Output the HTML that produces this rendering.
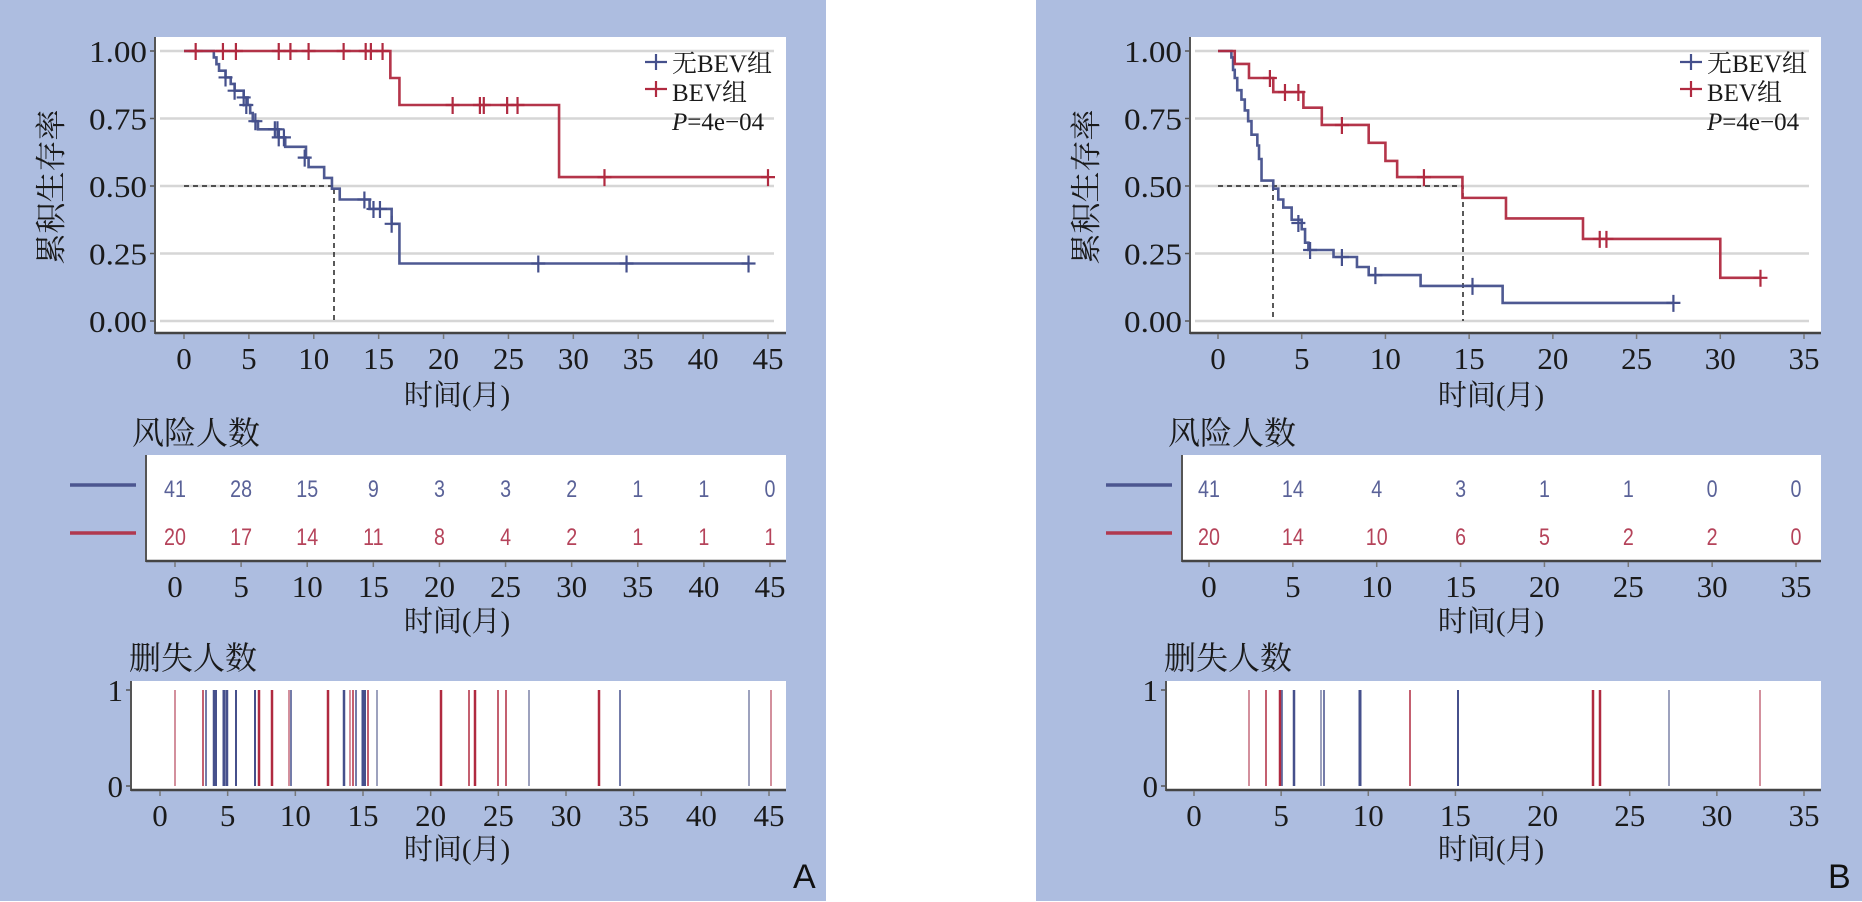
<!DOCTYPE html>
<html><head><meta charset="utf-8"><style>
html,body{margin:0;padding:0;background:#fff;}
svg{display:block;}
.ser{font-family:"Liberation Serif","Noto Serif CJK SC",serif;fill:#1a1a1a;}
.cjk{font-family:"Liberation Serif","Noto Serif CJK SC",serif;fill:#1a1a1a;}
.nar{font-family:"Liberation Sans Narrow","Liberation Sans",sans-serif;}
</style></head><body>
<svg id="s" width="1862" height="902" xmlns="http://www.w3.org/2000/svg">
<rect x="0" y="0" width="1862" height="902" fill="#fff"/>
<rect x="0" y="0" width="826" height="901" fill="#adbde0"/>
<rect x="1036" y="0" width="826" height="901" fill="#adbde0"/>
<g id="g"></g>
</svg>
<script>
var NS="http://www.w3.org/2000/svg",G=document.getElementById("g");
function el(t,a,txt){var e=document.createElementNS(NS,t);for(var k in a)e.setAttribute(k,a[k]);if(txt!==undefined)e.textContent=txt;G.appendChild(e);return e;}
var BLUE="#45508c",RED="#b02a40";
function ys(s){return 321-270*s;}
function panel(o){
 var L=o.L, R=o.R;
 el("rect",{x:L,y:37,width:R-L,height:296,fill:"#fff"});
 [0,0.25,0.5,0.75,1].forEach(function(v){
  var y=ys(v);
  el("line",{x1:L+5,x2:R-12,y1:y,y2:y,stroke:"#d6d6d6","stroke-width":2.5});
  el("line",{x1:L-5,x2:L,y1:y,y2:y,stroke:"#555","stroke-width":1.5});
  el("text",{x:L-8,y:y+11,"text-anchor":"end","font-size":31,class:"ser",textLength:58,lengthAdjust:"spacingAndGlyphs"},v.toFixed(2));
 });
 el("line",{x1:L,x2:L,y1:37,y2:334,stroke:"#555","stroke-width":2});
 el("line",{x1:L,x2:R,y1:333,y2:333,stroke:"#444","stroke-width":2.5});
 var tx=function(t){return o.x0+t*o.kx;};
 for(var t=0;t<=o.max;t+=5){var x=tx(t);
  el("line",{x1:x,x2:x,y1:334,y2:339,stroke:"#777","stroke-width":1.5});
  el("text",{x:x,y:369,"text-anchor":"middle","font-size":31,class:"ser"},t);}
 el("text",{transform:"translate("+(L-93)+",187) rotate(-90)","text-anchor":"middle","font-size":31,class:"cjk"},"累积生存率");
 el("text",{x:o.tc,y:405,"text-anchor":"middle","font-size":29,class:"cjk"},"时间(月)");
 el("path",{d:o.med,stroke:"#222","stroke-width":1.5,fill:"none","stroke-dasharray":"5,4"});
 function curve(c,steps,end,cens){
  var d="M"+tx(0)+","+ys(1);
  steps.forEach(function(p){d+="H"+tx(p[0])+"V"+ys(p[1]);});
  d+="H"+tx(end);
  el("path",{d:d,stroke:c,"stroke-width":2.6,fill:"none","stroke-opacity":0.95});
  cens.forEach(function(p){var x=tx(p[0]),y=ys(p[1]);
   el("path",{d:"M"+(x-7)+","+y+"H"+(x+7)+"M"+x+","+(y-8)+"V"+(y+9),stroke:c,"stroke-width":2.2});});
 }
 curve(BLUE,o.bs,o.be,o.bc);
 curve(RED,o.rs,o.re,o.rc);
 var lx=o.lx;
 el("path",{d:"M"+(lx-27)+",62H"+(lx-5)+"M"+(lx-16)+",54V70",stroke:BLUE,"stroke-width":2.2});
 el("path",{d:"M"+(lx-27)+",89H"+(lx-5)+"M"+(lx-16)+",81V97",stroke:RED,"stroke-width":2.2});
 el("text",{x:lx,y:72,"font-size":25,class:"cjk"},"无BEV组");
 el("text",{x:lx,y:101,"font-size":25,class:"cjk"},"BEV组");
 var p=el("text",{x:lx,y:130,"font-size":25,class:"ser"});
 p.innerHTML='<tspan font-style="italic">P</tspan>=4e−04';
 el("text",{x:o.rl-14,y:444,"font-size":32,class:"cjk"},"风险人数");
 el("rect",{x:o.rl,y:455,width:R-o.rl,height:106,fill:"#fff"});
 el("line",{x1:o.rl,x2:o.rl,y1:455,y2:562,stroke:"#555","stroke-width":2});
 el("line",{x1:o.rl,x2:R,y1:561,y2:561,stroke:"#444","stroke-width":2.5});
 el("line",{x1:o.rl-76,x2:o.rl-10,y1:485,y2:485,stroke:"#4c5690","stroke-width":3.5});
 el("line",{x1:o.rl-76,x2:o.rl-10,y1:533,y2:533,stroke:"#b0384f","stroke-width":3.5});
 var rx=function(t){return o.r0+t*o.rk;};
 for(var i=0;i*5<=o.max;i++){var x=rx(i*5);
  el("text",{transform:"translate("+x+",497) scale(0.82,1)","text-anchor":"middle","font-size":24,class:"nar",fill:"#5a6298"},o.n1[i]);
  el("text",{transform:"translate("+x+",545) scale(0.82,1)","text-anchor":"middle","font-size":24,class:"nar",fill:"#b5435a"},o.n2[i]);
  el("line",{x1:x,x2:x,y1:562,y2:567,stroke:"#777","stroke-width":1.5});
  el("text",{x:x,y:597,"text-anchor":"middle","font-size":31,class:"ser"},i*5);}
 el("text",{x:o.tc,y:631,"text-anchor":"middle","font-size":29,class:"cjk"},"时间(月)");
 el("text",{x:o.cl-2,y:669,"font-size":32,class:"cjk"},"删失人数");
 el("rect",{x:o.cl,y:681,width:R-o.cl,height:109,fill:"#fff"});
 el("line",{x1:o.cl,x2:o.cl,y1:681,y2:791,stroke:"#555","stroke-width":2});
 el("line",{x1:o.cl,x2:R,y1:790,y2:790,stroke:"#444","stroke-width":2.5});
 el("text",{x:o.cl-8,y:701,"text-anchor":"end","font-size":31,class:"ser"},"1");
 el("text",{x:o.cl-8,y:797,"text-anchor":"end","font-size":31,class:"ser"},"0");
 el("line",{x1:o.cl-5,x2:o.cl,y1:690,y2:690,stroke:"#555","stroke-width":1.5});
 el("line",{x1:o.cl-5,x2:o.cl,y1:786,y2:786,stroke:"#555","stroke-width":1.5});
 var cx=function(t){return o.c0+t*o.ck;};
 for(var t=0;t<=o.max;t+=5){var x=cx(t);
  el("line",{x1:x,x2:x,y1:791,y2:796,stroke:"#777","stroke-width":1.5});
  el("text",{x:x,y:826,"text-anchor":"middle","font-size":31,class:"ser"},t);}
 el("text",{x:o.tc,y:859,"text-anchor":"middle","font-size":29,class:"cjk"},"时间(月)");
 o.cz.forEach(function(c){el("line",{x1:c[0],x2:c[0],y1:690,y2:786,stroke:c[1],"stroke-width":c[2]});});
 el("text",{x:R+7,y:888,"font-size":34,"font-family":"Liberation Sans, sans-serif",fill:"#111"},o.lab);
}
var b="#46508c",r="#b02a40",lb="#7c82a8",lr="#c46a7c";
panel({L:155,R:786,x0:184,kx:584/45,max:45,tc:457,lx:672,
 med:"M184,186H334V321",
 bs:[[2.3,0.976],[2.5,0.951],[2.7,0.927],[3.2,0.902],[3.6,0.878],[3.9,0.853],[4.6,0.828],[4.9,0.8],[5.1,0.77],[5.3,0.74],[5.7,0.71],[7.3,0.68],[7.8,0.645],[9.4,0.605],[9.6,0.57],[10.8,0.53],[11.4,0.49],[12.0,0.45],[14.3,0.415],[16.0,0.36],[16.6,0.213]],be:43.5,
 bc:[[3.2,0.902],[3.9,0.853],[4.6,0.828],[4.8,0.8],[5.5,0.74],[7.0,0.71],[7.2,0.71],[7.3,0.68],[7.7,0.68],[9.3,0.605],[13.9,0.45],[14.6,0.415],[15.1,0.415],[16.0,0.36],[27.3,0.213],[34.1,0.213],[43.5,0.213]],
 rs:[[15.9,0.9],[16.6,0.8],[28.9,0.533]],re:45,
 rc:[[0.9,1],[3,1],[4,1],[7.3,1],[8.2,1],[9.6,1],[12.3,1],[14,1],[14.4,1],[15.3,1],[20.7,0.8],[22.8,0.8],[23.1,0.8],[24.9,0.8],[25.7,0.8],[32.4,0.533],[45,0.533]],
 rl:146,r0:175,rk:595/45,n1:[41,28,15,9,3,3,2,1,1,0],n2:[20,17,14,11,8,4,2,1,1,1],
 cl:131,c0:160,ck:609/45,lab:"A",
 cz:[[175,lr,1.5],[203,r,1.5],[206,b,1.5],[214,b,2.5],[216,b,2],[224,b,3],[227,b,2.5],[236,b,2],[255,b,2],[259,r,2.5],[272,r,2.5],[289,lr,1.5],[291,b,1.5],[328,r,2.5],[344,b,2.5],[350,lr,1.5],[353,r,1.5],[356,b,1.5],[363,b,3],[365,b,2],[368,r,1.5],[377,lb,1.5],[441,r,2.5],[469,r,1.5],[475,r,2.5],[498,r,1.5],[506,r,1.5],[529,lb,1.5],[599,r,2.5],[620,b,1.5],[749,lb,1.5],[771,lr,1.5]]
});
panel({L:1190,R:1821,x0:1218,kx:586/35,max:35,tc:1491,lx:1707,
 med:"M1218,186H1463V321M1273,186V321",
 bs:[[0.8,0.976],[0.9,0.93],[1.0,0.9],[1.15,0.855],[1.4,0.82],[1.6,0.78],[1.8,0.74],[2.0,0.69],[2.35,0.65],[2.45,0.6],[2.6,0.52],[3.3,0.49],[3.6,0.45],[3.9,0.42],[4.4,0.375],[5.0,0.34],[5.2,0.29],[5.4,0.263],[6.9,0.237],[8.3,0.2],[9.0,0.17],[12.1,0.13],[17.0,0.067]],be:27.2,
 bc:[[4.8,0.363],[5.5,0.263],[7.4,0.237],[9.4,0.17],[15.2,0.13],[27.2,0.067]],
 rs:[[1.0,0.952],[1.85,0.9],[3.3,0.848],[5.1,0.79],[6.2,0.726],[9.0,0.66],[10.0,0.593],[10.7,0.533],[14.6,0.456],[17.2,0.38],[21.8,0.304],[30.0,0.16]],re:32.4,
 rc:[[3.1,0.9],[4.0,0.848],[4.8,0.848],[7.4,0.726],[12.3,0.533],[22.8,0.304],[23.2,0.304],[32.4,0.16]],
 rl:1182,r0:1209,rk:587/35,n1:[41,14,4,3,1,1,0,0],n2:[20,14,10,6,5,2,2,0],
 cl:1166,c0:1194,ck:610/35,lab:"B",
 cz:[[1249,lr,1.5],[1266,r,1.5],[1280,r,2.5],[1282,b,1.5],[1294,b,2.5],[1321,lb,1.5],[1324,b,1.5],[1360,b,3],[1410,r,1.5],[1458,b,2],[1593,r,2.5],[1600,r,2.5],[1669,lb,1.5],[1760,lr,1.5]]
});
</script>
</body></html>
